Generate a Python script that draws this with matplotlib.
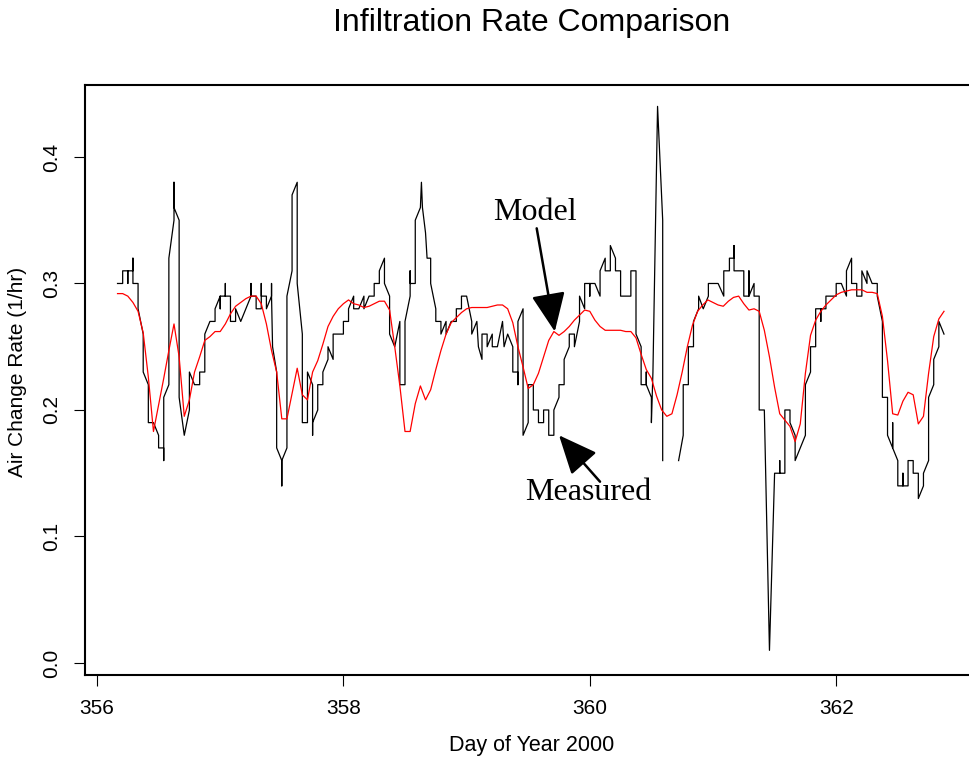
import numpy as np
import matplotlib.pyplot as plt

plt.rcParams['font.family'] = ['Liberation Sans', 'DejaVu Sans']

# day 356 of 2000, hourly readings
day0 = 356

# model air change rate (1/hr), one value per hour from hour 4 to hour 165
model_start = 4
model_ach = [
    0.292, 0.292, 0.290, 0.285, 0.278, 0.261, 0.226, 0.183, 0.204, 0.225,
    0.247, 0.268, 0.242, 0.195, 0.208, 0.230, 0.242, 0.255, 0.258, 0.262,
    0.262, 0.268, 0.276, 0.282, 0.285, 0.288, 0.290, 0.290, 0.284, 0.268,
    0.247, 0.230, 0.193, 0.193, 0.213, 0.233, 0.212, 0.208, 0.230, 0.239,
    0.252, 0.266, 0.274, 0.280, 0.284, 0.287, 0.284, 0.283, 0.281, 0.282,
    0.284, 0.286, 0.286, 0.279, 0.250, 0.219, 0.183, 0.183, 0.205, 0.219,
    0.208, 0.216, 0.232, 0.247, 0.260, 0.269, 0.273, 0.277, 0.280, 0.281,
    0.281, 0.281, 0.281, 0.282, 0.283, 0.283, 0.280, 0.269, 0.250, 0.234,
    0.217, 0.220, 0.229, 0.242, 0.255, 0.262, 0.259, 0.262, 0.266, 0.271,
    0.275, 0.279, 0.278, 0.271, 0.266, 0.263, 0.263, 0.263, 0.263, 0.262,
    0.262, 0.257, 0.244, 0.232, 0.225, 0.211, 0.200, 0.195, 0.197, 0.212,
    0.230, 0.250, 0.267, 0.278, 0.283, 0.287, 0.285, 0.283, 0.282, 0.286,
    0.289, 0.290, 0.284, 0.279, 0.280, 0.278, 0.263, 0.242, 0.218, 0.197,
    0.192, 0.187, 0.175, 0.189, 0.229, 0.259, 0.271, 0.278, 0.283, 0.287,
    0.291, 0.293, 0.294, 0.295, 0.295, 0.295, 0.293, 0.293, 0.292, 0.274,
    0.239, 0.197, 0.196, 0.207, 0.214, 0.212, 0.189, 0.195, 0.229, 0.258,
    0.272, 0.278,
]

# measured: (hour, readings at that hour) - several readings give the steps
measured = [
    (4, [0.30]), (5, [0.30, 0.31]), (6, [0.31, 0.30, 0.31]), (7, [0.31, 0.32, 0.30]),
    (8, [0.30, 0.28]), (9, [0.26, 0.23]), (10, [0.22, 0.19]), (11, [0.19]),
    (12, [0.18, 0.17]), (13, [0.17, 0.16, 0.21]), (14, [0.22, 0.32]),
    (15, [0.35, 0.38, 0.36]), (16, [0.35, 0.21]), (17, [0.18]), (18, [0.20, 0.23]),
    (19, [0.22]), (20, [0.22, 0.23]), (21, [0.23, 0.26]), (22, [0.27]),
    (23, [0.27, 0.28]), (24, [0.29, 0.28, 0.29]), (25, [0.29, 0.30, 0.29]),
    (26, [0.29, 0.27]), (27, [0.27, 0.28]), (28, [0.27]), (29, [0.28]),
    (30, [0.29, 0.30, 0.29]), (31, [0.29, 0.28]), (32, [0.28, 0.30, 0.29]),
    (33, [0.29, 0.28]), (34, [0.29, 0.30, 0.29]), (34.2, [0.25]),
    (35, [0.23, 0.17]), (36, [0.16, 0.14, 0.16]), (37, [0.17, 0.29]),
    (38, [0.31, 0.37]), (39, [0.38, 0.30]), (40, [0.26, 0.19]), (41, [0.19, 0.23]),
    (42, [0.22, 0.18, 0.19]), (43, [0.20, 0.22]), (44, [0.22, 0.23]),
    (45, [0.24, 0.25]), (46, [0.24, 0.26]), (47, [0.26]), (48, [0.26, 0.27]),
    (49, [0.27, 0.28]), (50, [0.29, 0.28]), (51, [0.28]), (52, [0.29, 0.28]),
    (53, [0.29]), (54, [0.29, 0.30]), (55, [0.30, 0.31]), (56, [0.32, 0.30]),
    (57, [0.29, 0.26]), (58, [0.25]), (59, [0.27, 0.22]), (60, [0.22, 0.27]),
    (61, [0.29, 0.31, 0.30]), (62, [0.30, 0.35]), (63, [0.36]), (63.2, [0.38]),
    (63.4, [0.36]), (64, [0.34]), (64.3, [0.32]), (65, [0.32, 0.30]),
    (66, [0.28, 0.27]), (67, [0.27, 0.26]), (68, [0.27, 0.26]), (69, [0.27]),
    (70, [0.27, 0.28]), (71, [0.28, 0.29]), (72, [0.29]), (73, [0.27, 0.26]),
    (74, [0.27]), (74.3, [0.25]), (75, [0.24, 0.26]), (76, [0.26, 0.25]),
    (77, [0.26, 0.25]), (78, [0.25]), (79, [0.27]), (79.3, [0.25]), (80, [0.26]),
    (81, [0.25, 0.23]), (82, [0.23, 0.22, 0.27]), (83, [0.28, 0.18]),
    (84, [0.19, 0.22]), (85, [0.22, 0.20]), (86, [0.20, 0.19]), (87, [0.19, 0.20]),
    (88, [0.20, 0.18]), (89, [0.18, 0.20]), (90, [0.21, 0.22]), (91, [0.22, 0.24]),
    (92, [0.25, 0.26]), (93, [0.26, 0.25]), (94, [0.27, 0.29]), (95, [0.28, 0.30]),
    (96, [0.30, 0.29, 0.30]), (97, [0.30]), (98, [0.29, 0.31]), (99, [0.32, 0.31]),
    (100, [0.31, 0.33]), (101, [0.32, 0.31]), (102, [0.31, 0.29]), (103, [0.29]),
    (104, [0.29, 0.31]), (105, [0.31, 0.26]), (106, [0.25, 0.22]),
    (107, [0.22, 0.23, 0.22]), (108, [0.21, 0.19]), (108.3, [0.23]),
    (109.2, [0.44]), (110.2, [0.35, 0.16]),
    (111.7, [np.nan]),  # no readings here
    (113.3, [0.16]), (114.2, [0.18, 0.22]), (115.2, [0.22, 0.25]),
    (116.2, [0.25, 0.27]), (117.2, [0.28, 0.29]), (118.1, [0.28]),
    (119.1, [0.29, 0.30]), (120.1, [0.30]), (121, [0.30]), (122.1, [0.29, 0.31]),
    (123.2, [0.31, 0.32]), (124.1, [0.32, 0.33, 0.31]), (125, [0.31]),
    (126, [0.31, 0.29]), (127, [0.29, 0.31, 0.29]), (128, [0.30, 0.29]),
    (129, [0.29, 0.20]), (130, [0.20]), (131, [0.01]), (132, [0.15]),
    (133, [0.15, 0.16, 0.15]), (134, [0.15, 0.20]), (135, [0.20, 0.19]),
    (136, [0.18, 0.16]), (137, [0.17]), (138, [0.18, 0.22]), (139, [0.23, 0.25]),
    (140, [0.25, 0.28]), (141, [0.28, 0.27, 0.28]), (142, [0.28, 0.29]),
    (143, [0.29]), (144, [0.29, 0.30]), (145, [0.30]), (146, [0.29, 0.31]),
    (147, [0.32, 0.30]), (148, [0.30, 0.29]), (149, [0.29, 0.31]), (150, [0.30, 0.31]),
    (151, [0.30]), (152, [0.30, 0.29]), (153, [0.27, 0.21]), (154, [0.21, 0.18]),
    (155, [0.17, 0.19, 0.17]), (156, [0.16, 0.14]), (157, [0.14, 0.15, 0.14]),
    (158, [0.14, 0.16]), (159, [0.16, 0.15]), (160, [0.15, 0.13]), (161, [0.14, 0.15]),
    (162, [0.16, 0.21]), (163, [0.22, 0.24]), (164, [0.25, 0.27]), (165, [0.26]),
]

xticks = [356, 358, 360, 362]
yticks = [0.0, 0.1, 0.2, 0.3, 0.4]
ytick_labels = ["0.0", "0.1", "0.2", "0.3", "0.4"]

meas_hour = []
meas_ach = []
for h, vals in measured:
    for v in vals:
        meas_hour.append(h)
        meas_ach.append(v)
meas_day = day0 + np.array(meas_hour) / 24
model_day = day0 + (model_start + np.arange(len(model_ach))) / 24

W, H = 969, 757
fig = plt.figure(figsize=(W / 100, H / 100), dpi=100)
ax = fig.add_axes([85 / W, 82 / H, 898 / W, 590 / H])

ax.plot(meas_day, meas_ach, color="black", lw=0.9)
ax.plot(model_day, model_ach, color="red", lw=0.9)

ax.set_xlim(355.9026, 363.1916)
ax.set_ylim(-0.0095, 0.4569)
ax.set_xticks(xticks)
ax.set_xticklabels([str(t) for t in xticks])
ax.set_yticks(yticks)
ax.set_yticklabels(ytick_labels, rotation=90, va="center")
ax.tick_params(direction="out", length=8, width=0.8, labelsize=15, pad=9)
for s in ax.spines.values():
    s.set_linewidth(1.5)

fig.text(532 / W, 1 - 23 / H, "Infiltration Rate Comparison", fontsize=23,
         ha="center", va="center")
fig.text(532 / W, 1 - 745 / H, "Day of Year 2000", fontsize=15.5,
         ha="center", va="center")
fig.text(18 / W, 1 - 372 / H, "Air Change Rate (1/hr)", fontsize=15,
         rotation=90, ha="center", va="center")

arrow = dict(arrowstyle="-|>,head_length=0.8,head_width=0.35",
             mutation_scale=30, lw=1.8, color="black", shrinkA=0, shrinkB=0)
ax.annotate("", xy=(359.716, 0.262), xytext=(359.569, 0.3436), arrowprops=arrow)
ax.annotate("", xy=(359.75, 0.180), xytext=(360.083, 0.1433), arrowprops=arrow)
ax.text(359.555, 0.3502, "Model", family="Liberation Serif", fontsize=23,
        ha="center", va="baseline")
ax.text(359.985, 0.1289, "Measured", family="Liberation Serif", fontsize=23,
        ha="center", va="baseline")

fig.savefig("out.png", dpi=100)
